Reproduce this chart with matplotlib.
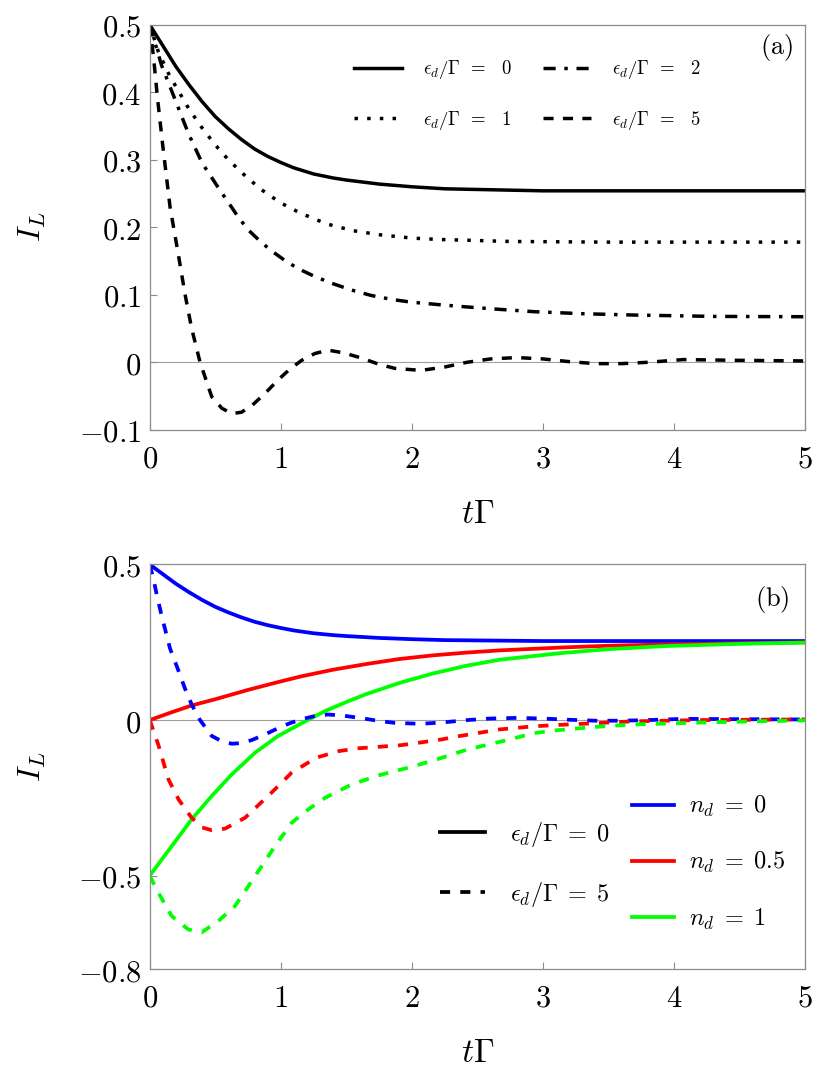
import matplotlib
matplotlib.use("Agg")
import matplotlib.pyplot as plt
from matplotlib.lines import Line2D

plt.rcParams['mathtext.fontset'] = 'cm'
plt.rcParams['font.family'] = ['DejaVu Serif']

# ---- panel (a): n_d = 0, different eps_d/Gamma ----
t_e0 = [0, 0.1, 0.2, 0.3, 0.4, 0.5, 0.6, 0.7, 0.8, 0.9, 1.0, 1.1, 1.25, 1.4, 1.5,
        1.75, 2.0, 2.25, 2.5, 3.0, 3.5, 4.0, 4.5, 5.0]
I_e0 = [0.5, 0.469, 0.438, 0.411, 0.386, 0.364, 0.346, 0.33, 0.316, 0.305, 0.296,
        0.288, 0.279, 0.273, 0.27, 0.264, 0.26, 0.257, 0.256, 0.254, 0.254, 0.254,
        0.254, 0.254]

t_e1 = [0, 0.066, 0.15, 0.3, 0.4, 0.5, 0.6, 0.73, 0.85, 1.0, 1.15, 1.35, 1.55, 1.75,
        2.0, 2.2, 2.75, 3.5, 4.25, 5.0]
I_e1 = [0.5, 0.46, 0.425, 0.375, 0.347, 0.322, 0.3, 0.276, 0.256, 0.236, 0.221,
        0.205, 0.195, 0.189, 0.184, 0.182, 0.179, 0.178, 0.178, 0.178]

t_e2 = [0, 0.09, 0.206, 0.295, 0.4, 0.536, 0.676, 0.752, 0.85, 0.93, 1.03, 1.13,
        1.26, 1.39, 1.54, 1.69, 1.85, 2.0, 2.23, 2.42, 2.7, 2.93, 3.3, 3.69, 4.3, 5.0]
I_e2 = [0.5, 0.44, 0.383, 0.339, 0.295, 0.255, 0.215, 0.196, 0.178, 0.165, 0.151,
        0.139, 0.127, 0.117, 0.107, 0.099, 0.093, 0.089, 0.085, 0.082, 0.078, 0.075,
        0.072, 0.07, 0.068, 0.0675]

t_e5 = [0, 0.03, 0.06, 0.1, 0.155, 0.218, 0.27, 0.32, 0.384, 0.473, 0.55, 0.625,
        0.7, 0.78, 0.88, 0.98, 1.07, 1.16, 1.26, 1.36, 1.48, 1.62, 1.75, 1.87,
        2.07, 2.25, 2.42, 2.6, 2.8, 3.0, 3.2, 3.4, 3.6, 3.8, 4.07, 4.45, 5.0]
I_e5 = [0.5, 0.45, 0.39, 0.32, 0.23, 0.16, 0.1, 0.05, 0.0, -0.051, -0.068, -0.076,
        -0.074, -0.064, -0.046, -0.026, -0.01, 0.003, 0.013, 0.018, 0.014, 0.006,
        -0.003, -0.009, -0.012, -0.007, 0.0, 0.005, 0.007, 0.005, 0.001, -0.002,
        -0.002, 0.0, 0.004, 0.003, 0.002]

# ---- panel (b): n_d = 0.5 and 1 (n_d = 0 is the same as panel a) ----
t_h0 = [0, 0.16, 0.32, 0.5, 0.75, 0.96, 1.15, 1.4, 1.65, 1.9, 2.16, 2.42, 2.67,
        3.13, 3.5, 3.94, 4.5, 5.0]
I_h0 = [0, 0.024, 0.047, 0.067, 0.097, 0.12, 0.14, 0.162, 0.18, 0.196, 0.208,
        0.217, 0.224, 0.233, 0.239, 0.243, 0.247, 0.25]

t_f0 = [0, 0.168, 0.32, 0.473, 0.625, 0.803, 0.98, 1.16, 1.337, 1.5, 1.655, 1.91,
        2.163, 2.42, 2.67, 3.13, 3.5, 3.94, 4.5, 5.0]
I_f0 = [-0.5, -0.405, -0.319, -0.244, -0.175, -0.105, -0.051, -0.01, 0.029, 0.058,
        0.084, 0.12, 0.15, 0.175, 0.194, 0.215, 0.228, 0.238, 0.245, 0.249]

t_h5 = [0, 0.066, 0.142, 0.22, 0.32, 0.4, 0.473, 0.574, 0.727, 0.93, 1.083, 1.27,
        1.44, 1.58, 1.744, 1.91, 2.05, 2.23, 2.34, 2.67, 2.93, 3.1, 3.4, 3.69,
        4.2, 4.6, 5.0]
I_h5 = [0, -0.08, -0.19, -0.255, -0.314, -0.345, -0.354, -0.349, -0.314, -0.233,
        -0.169, -0.121, -0.1, -0.091, -0.086, -0.081, -0.073, -0.062, -0.053,
        -0.03, -0.02, -0.016, -0.01, -0.004, 0.0, 0.001, 0.002]

t_f5 = [0, 0.066, 0.168, 0.295, 0.397, 0.523, 0.65, 0.803, 0.956, 1.083, 1.21,
        1.337, 1.54, 1.744, 2.0, 2.2, 2.42, 2.72, 2.93, 3.1, 3.4, 3.69, 4.2, 4.6, 5.0]
I_f5 = [-0.5, -0.555, -0.63, -0.673, -0.682, -0.646, -0.598, -0.502, -0.405, -0.33,
        -0.287, -0.25, -0.207, -0.178, -0.15, -0.125, -0.095, -0.065, -0.042,
        -0.033, -0.022, -0.014, -0.008, -0.004, -0.001]

labels_a = [r'$\epsilon_d/\Gamma\;\,=\;\;\;0$', r'$\epsilon_d/\Gamma\;\,=\;\;\;1$',
            r'$\epsilon_d/\Gamma\;\,=\;\;\;2$', r'$\epsilon_d/\Gamma\;\,=\;\;\;5$']
labels_eps = [r'$\epsilon_d/\Gamma\;=\;0$', r'$\epsilon_d/\Gamma\;=\;5$']
labels_nd = [r'$n_d\;=\;0$', r'$n_d\;=\;0.5$', r'$n_d\;=\;1$']

xticks = [0, 1, 2, 3, 4, 5]
yticks_a = [-0.1, 0, 0.1, 0.2, 0.3, 0.4, 0.5]
yticks_b = [-0.8, -0.5, 0, 0.5]
ylabels_a = [r'$-0.1$', r'$0$', r'$0.1$', r'$0.2$', r'$0.3$', r'$0.4$', r'$0.5$']
ylabels_b = [r'$-0.8$', r'$-0.5$', r'$0$', r'$0.5$']

BLUE, RED, GREEN = (0, 0, 1), (1, 0, 0), (0, 1, 0)
DOT = (1, 2.65)
DASHDOT = (3.5, 2.5, 1.0, 2.5)
DASH = (2.9, 2.7)

fig = plt.figure(figsize=(8.3, 10.81), dpi=100)
ax1 = fig.add_axes([0.1804, 0.6024, 0.7895, 0.3747])
ax2 = fig.add_axes([0.1804, 0.1036, 0.7895, 0.3742])


def style(ax, yt, yl):
    ax.set_xlim(0, 5)
    ax.set_xticks(xticks)
    ax.set_xticklabels(['$%d$' % v for v in xticks])
    ax.set_yticks(yt)
    ax.set_yticklabels(yl)
    for s in ax.spines.values():
        s.set_color('#8c8c8c')
        s.set_linewidth(0.9)
    ax.tick_params(direction='in', length=5, width=0.8, color='#8c8c8c',
                   labelsize=22, top=False, right=False)
    ax.tick_params(axis='x', pad=10)
    ax.tick_params(axis='y', pad=6)
    ax.axhline(0, color='#a0a0a0', lw=0.8, zorder=1)
    ax.set_xlabel(r'$t\Gamma$', fontsize=24)
    ax.set_ylabel(r'$I_L$', fontsize=23)
    ax.xaxis.set_label_coords(0.5, -0.207)
    ax.xaxis.label.set_va('center')
    ax.yaxis.set_label_coords(-0.179, 0.5)
    ax.yaxis.label.set_va('center')


# panel (a)
style(ax1, yticks_a, ylabels_a)
ax1.set_ylim(-0.1, 0.5)
ax1.plot(t_e0, I_e0, color='k', lw=2.5, label=labels_a[0])
ax1.plot(t_e1, I_e1, color='k', lw=2.5, dashes=DOT, dash_capstyle='butt',
         label=labels_a[1])
ax1.plot(t_e2, I_e2, color='k', lw=2.5, dashes=DASHDOT, label=labels_a[2])
ax1.plot(t_e5, I_e5, color='k', lw=2.5, dashes=DASH, label=labels_a[3])
ax1.legend(loc='center', bbox_to_anchor=(0.5765, 0.8267), ncol=2, frameon=False,
           fontsize=13.5, handlelength=2.6, handletextpad=1.1, columnspacing=1.6,
           labelspacing=1.45, borderpad=0, borderaxespad=0)
ax1.text(0.957, 0.943, r'$\mathrm{(a)}$', transform=ax1.transAxes, fontsize=19,
         ha='center', va='center')

# panel (b)
style(ax2, yticks_b, ylabels_b)
ax2.set_ylim(-0.8, 0.5)
ax2.plot(t_e0, I_e0, color=BLUE, lw=2.7)
ax2.plot(t_h0, I_h0, color=RED, lw=2.7)
ax2.plot(t_f0, I_f0, color=GREEN, lw=2.7)
ax2.plot(t_e5, I_e5, color=BLUE, lw=2.7, dashes=(2.7, 2.7))
ax2.plot(t_h5, I_h5, color=RED, lw=2.7, dashes=(2.7, 2.7))
ax2.plot(t_f5, I_f5, color=GREEN, lw=2.7, dashes=(2.7, 2.7))

h_eps = [Line2D([], [], color='k', lw=2.7),
         Line2D([], [], color='k', lw=2.7, dashes=(2.7, 2.7))]
h_nd = [Line2D([], [], color=c, lw=2.7) for c in (BLUE, RED, GREEN)]
leg1 = ax2.legend(h_eps, labels_eps, loc='center', bbox_to_anchor=(0.5727, 0.259),
                  frameon=False, fontsize=17.5, handlelength=1.85, handletextpad=1.03,
                  labelspacing=1.26, borderpad=0, borderaxespad=0)
ax2.add_artist(leg1)
ax2.legend(h_nd, labels_nd, loc='center', bbox_to_anchor=(0.8527, 0.2625),
           frameon=False, fontsize=17.5, handlelength=1.73, handletextpad=0.62,
           labelspacing=1.28, borderpad=0, borderaxespad=0)
ax2.text(0.950, 0.914, r'$\mathrm{(b)}$', transform=ax2.transAxes, fontsize=19,
         ha='center', va='center')

fig.savefig('out.png', dpi=100)
